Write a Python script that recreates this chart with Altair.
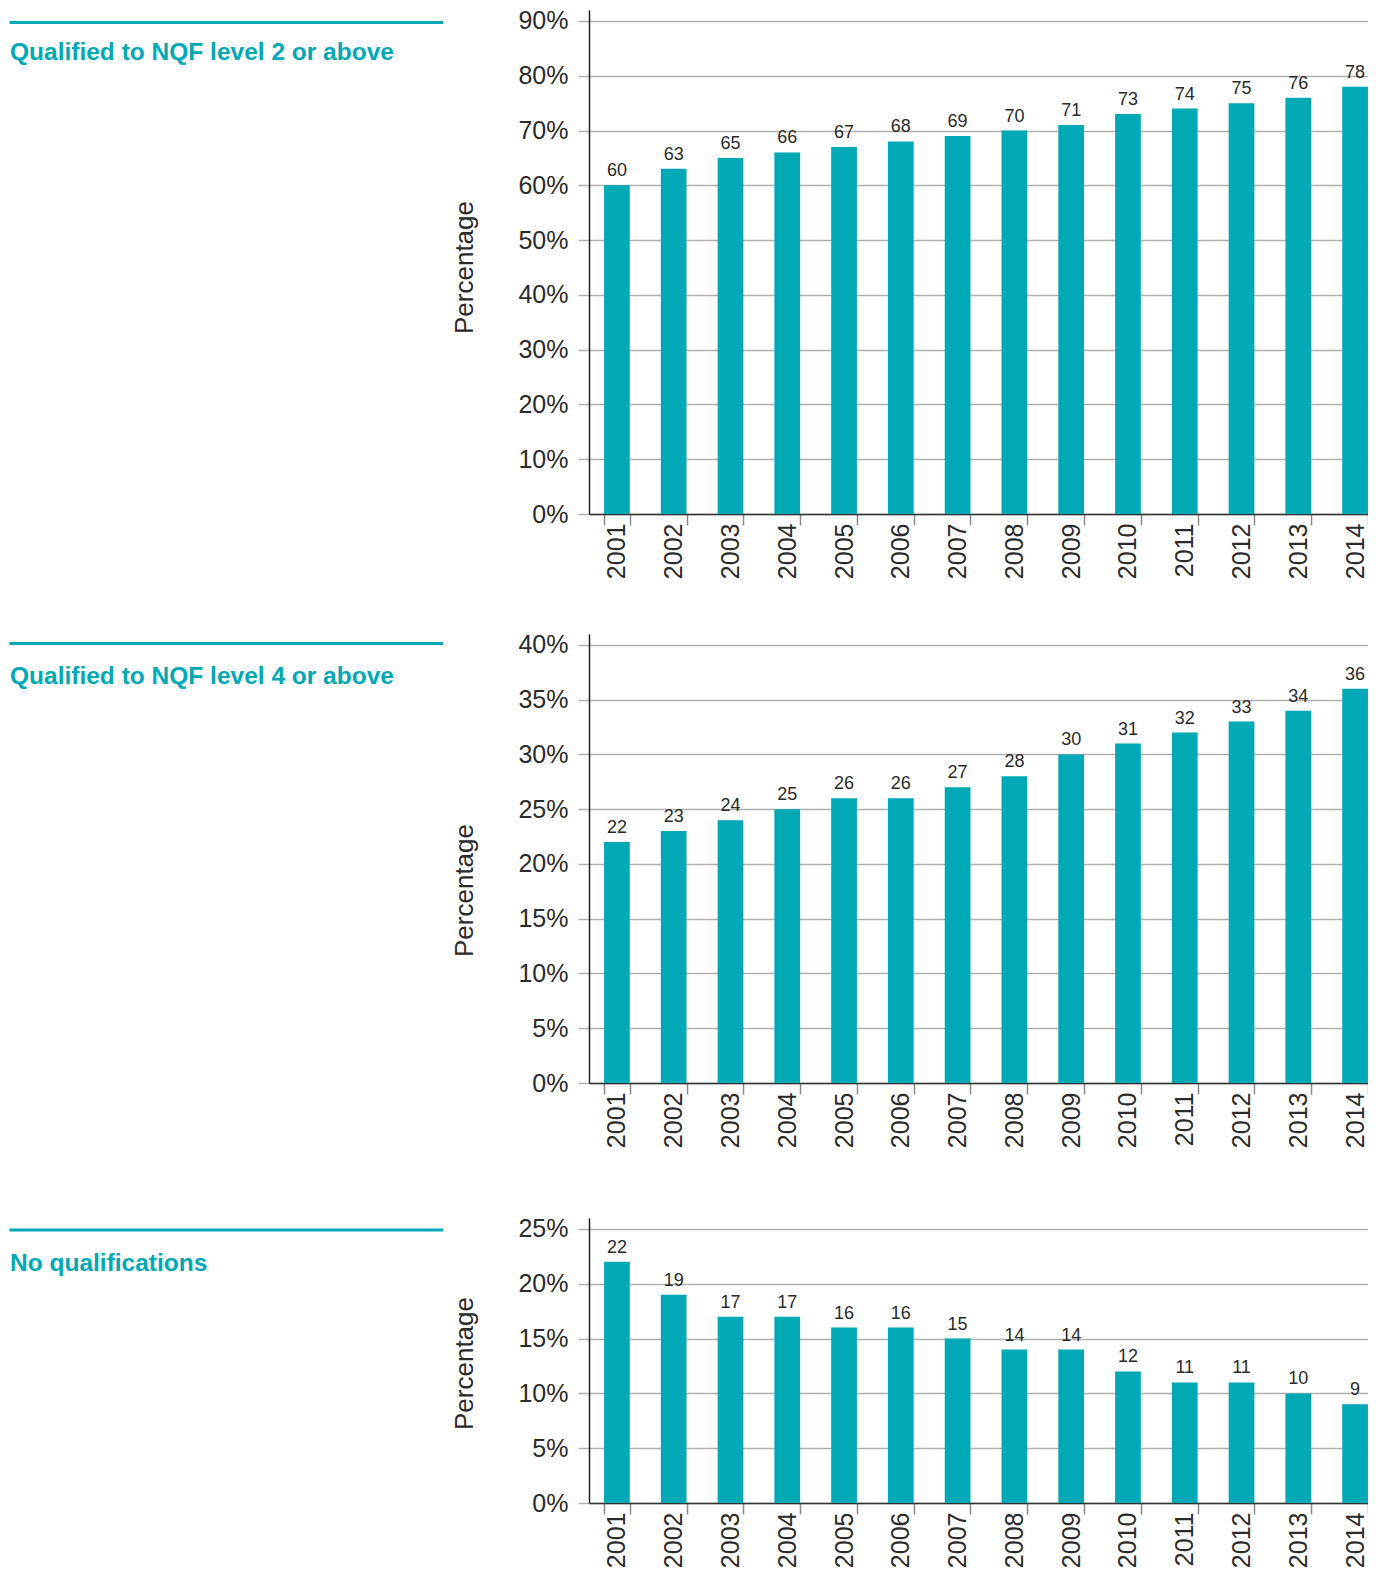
import altair as alt
import pandas as pd

years = [str(y) for y in range(2001, 2015)]
level2 = [60, 63, 65, 66, 67, 68, 69, 70, 71, 73, 74, 75, 76, 78]
level4 = [22, 23, 24, 25, 26, 26, 27, 28, 30, 31, 32, 33, 34, 36]
noqual = [22, 19, 17, 17, 16, 16, 15, 14, 14, 12, 11, 11, 10, 9]

titles = ["Qualified to NQF level 2 or above",
          "Qualified to NQF level 4 or above",
          "No qualifications"]

TEAL = "#00A9B5"
TEXT = "#2b2b2b"
FONT = "Liberation Sans"
W = 794


def make_row(title, values, height, dmax, ticks, pin_top, pin_bot, rule_y, text_y, title_y):
    df = pd.DataFrame({"year": years, "value": values})
    base = alt.Chart(df)
    x = alt.X("year:O", title=None,
              scale=alt.Scale(paddingInner=0.547, paddingOuter=0.265),
              axis=alt.Axis(labelAngle=-90, labelFontSize=25, labelColor=TEXT,
                            labelFont=FONT, labelPadding=-2, tickBand="extent",
                            tickSize=11, tickColor="#8a8a8a", tickWidth=1.5,
                            domainColor="#333333", domainWidth=1.5, grid=False))
    y = alt.Y("value:Q", title="Percentage",
              scale=alt.Scale(domain=[0, dmax], nice=False, zero=True),
              axis=alt.Axis(values=ticks, labelExpr="datum.value + '%'",
                            labelFontSize=25, labelColor=TEXT, labelFont=FONT,
                            labelPadding=10, tickSize=11, tickColor="#b0b0b0",
                            tickWidth=1.5, gridColor="#b0b0b0", gridWidth=1.5,
                            domainColor="#222222", domainWidth=1.5,
                            titleFontSize=26, titleFontWeight="normal",
                            titleColor=TEXT, titleFont=FONT, titlePadding=40,
                            titleY=title_y))
    bars = base.mark_bar(color=TEAL).encode(x=x, y=y)
    labels = base.mark_text(baseline="alphabetic", dy=-9, fontSize=18,
                            color=TEXT, font=FONT).encode(
        x="year:O", y="value:Q", text="value:Q")
    one = alt.Data(values=[{"a": 1}])
    rule = alt.Chart(one).mark_rule(color=TEAL, strokeWidth=3).encode(
        x=alt.value(-579.5), x2=alt.value(-146), y=alt.value(rule_y))
    txt = alt.Chart(one).mark_text(align="left", baseline="alphabetic",
                                   fontSize=24.5, fontWeight="bold", font=FONT,
                                   color=TEAL).encode(
        x=alt.value(-579), y=alt.value(text_y), text=alt.value(title))
    p1 = alt.Chart(one).mark_rule(color="white", opacity=0).encode(
        x=alt.value(0), x2=alt.value(1), y=alt.value(pin_top))
    p2 = alt.Chart(one).mark_rule(color="white", opacity=0).encode(
        x=alt.value(0), x2=alt.value(1), y=alt.value(height + pin_bot))
    return alt.layer(bars, labels, rule, txt, p1, p2).properties(width=W, height=height)


r1 = make_row(titles[0], level2, 504, 92, list(range(0, 91, 10)), -1, 90, 12.5, 50, 257)
r2 = make_row(titles[1], level4, 449, 41, list(range(0, 41, 5)), -30, 90, 9.5, 50, 256)
r3 = make_row(titles[2], noqual, 285, 26, list(range(0, 26, 5)), -45, 40, 12, 53, 145)

chart = alt.vconcat(r1, r2, r3, spacing=0).configure_view(strokeWidth=0).properties(
    padding={"left": 0, "top": 0, "right": -15, "bottom": 0})

chart.save("out.html", embed_options={"renderer": "svg", "actions": False})
